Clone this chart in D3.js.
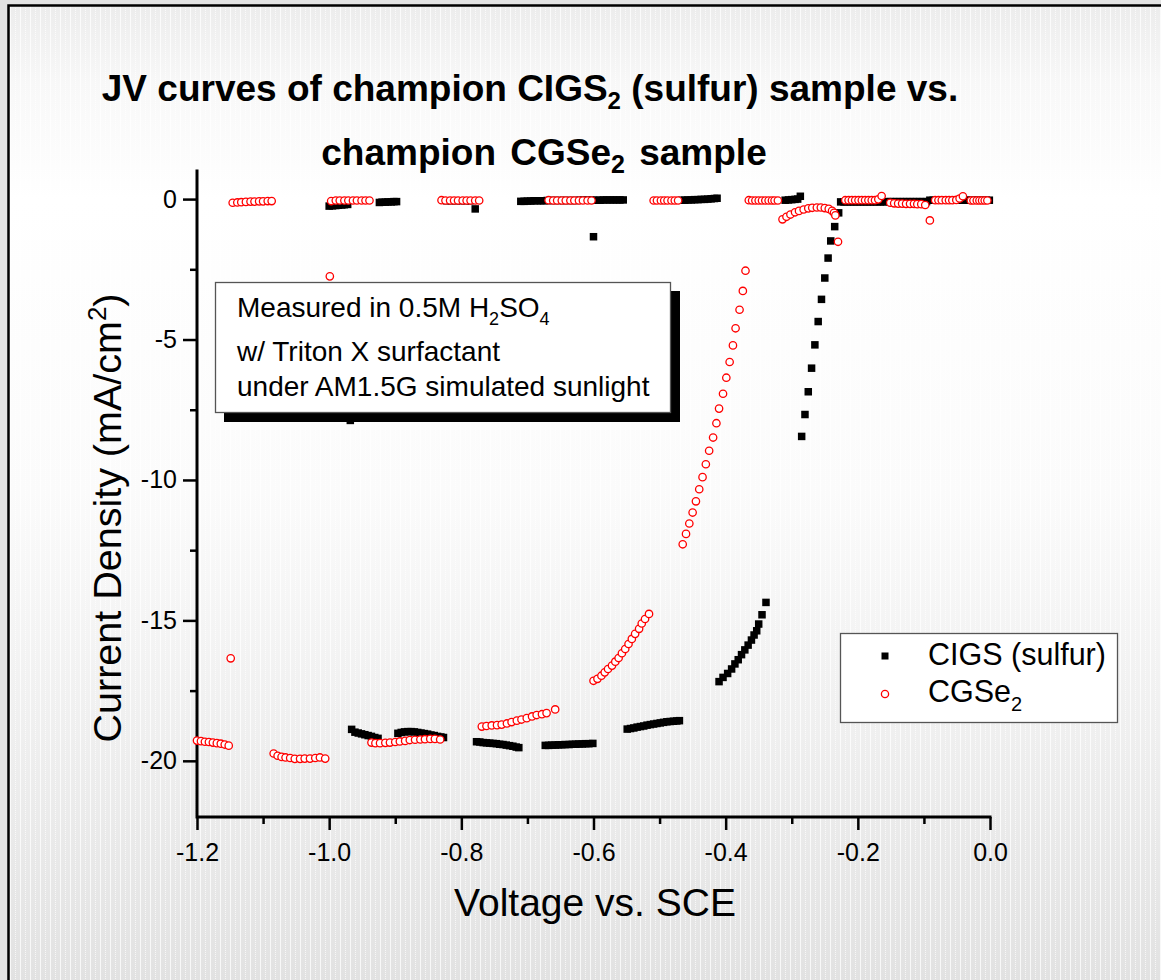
<!DOCTYPE html>
<html>
<head>
<meta charset="utf-8">
<script src="https://d3js.org/d3.v7.min.js"></script>
<style>
  html, body { margin: 0; padding: 0; background: #e3e3e3; }
  svg { display: block; }
  text { font-family: "Liberation Sans", Arial, Helvetica, sans-serif; fill: #000; }
</style>
</head>
<body>
<svg id="chart" width="1161" height="980"></svg>
<script>
// ---- CIGS (sulfur): chopped-light scan, voltage (V vs. SCE) and current density (mA/cm^2)
const cigsVoltage = [
  -1.000, -0.995, -0.990, -0.986, -0.981, -0.977, -0.972,
  -0.968,
  -0.966, -0.961, -0.956, -0.951, -0.946, -0.941, -0.936, -0.931, -0.926,
  -0.924, -0.920, -0.915, -0.911, -0.906, -0.902, -0.898,
  -0.896, -0.891, -0.886, -0.881, -0.876, -0.871, -0.866, -0.861, -0.856, -0.851, -0.846, -0.841, -0.836, -0.831, -0.827,
  -0.822, -0.815, -0.808, -0.801, -0.794, -0.787, -0.779,
  -0.777, -0.772, -0.767, -0.762, -0.757, -0.752, -0.747, -0.742, -0.737, -0.732, -0.727, -0.722, -0.717, -0.713,
  -0.710, -0.705, -0.700, -0.695, -0.690, -0.685, -0.680, -0.675, -0.670, -0.665, -0.660, -0.655, -0.650, -0.645, -0.640, -0.635,
  -0.630, -0.625, -0.620, -0.615, -0.610, -0.605, -0.600, -0.595, -0.590, -0.585, -0.580, -0.575, -0.570, -0.565, -0.560, -0.555,
  -0.673, -0.668, -0.663, -0.658, -0.653, -0.648, -0.643, -0.637, -0.632, -0.627, -0.622, -0.617, -0.612, -0.607, -0.601,
  -0.600,
  -0.549, -0.544, -0.539, -0.534, -0.529, -0.524, -0.519, -0.514, -0.509, -0.504, -0.499, -0.494, -0.489, -0.484, -0.479, -0.474, -0.470,
  -0.467, -0.462, -0.457, -0.452, -0.447, -0.442, -0.437, -0.432, -0.427, -0.422, -0.417, -0.413,
  -0.410, -0.404, -0.397, -0.391, -0.386, -0.381, -0.376, -0.371, -0.366, -0.361, -0.357, -0.353, -0.350, -0.345, -0.339,
  -0.310, -0.305, -0.300, -0.295, -0.291, -0.287,
  -0.285, -0.280, -0.275, -0.270, -0.265, -0.260, -0.255, -0.250, -0.245, -0.241, -0.235, -0.229,
  -0.226, -0.221, -0.216, -0.211, -0.206, -0.201, -0.196, -0.191, -0.186, -0.181, -0.176, -0.171, -0.166, -0.161,
  -0.156, -0.151, -0.146, -0.141, -0.136, -0.131, -0.126, -0.121, -0.116, -0.111, -0.106, -0.101, -0.096,
  -0.091, -0.086, -0.081, -0.076, -0.071, -0.066, -0.061, -0.056, -0.051, -0.046, -0.041, -0.036, -0.031, -0.026, -0.021, -0.016, -0.011, -0.006, -0.001
];
const cigsCurrent = [
  -0.25, -0.24, -0.23, -0.22, -0.21, -0.20, -0.19,
  -7.88,
  -18.88, -18.98, -19.01, -19.04, -19.07, -19.10, -19.13, -19.17, -19.20,
  -0.12, -0.11, -0.11, -0.10, -0.10, -0.09, -0.09,
  -19.02, -18.99, -18.97, -18.96, -18.96, -18.97, -18.99, -19.01, -19.03, -19.05, -19.08, -19.10, -19.13, -19.15, -19.17,
  -0.06, -0.06, -0.06, -0.06, -0.06, -0.06, -0.35,
  -19.32, -19.33, -19.35, -19.36, -19.37, -19.38, -19.39, -19.41, -19.42, -19.44, -19.46, -19.48, -19.51, -19.53,
  -0.08, -0.08, -0.07, -0.07, -0.06, -0.06, -0.06, -0.06, -0.05, -0.05, -0.05, -0.05, -0.05, -0.05, -0.05, -0.05,
  -0.05, -0.05, -0.04, -0.04, -0.04, -0.04, -0.04, -0.04, -0.04, -0.03, -0.03, -0.03, -0.03, -0.03, -0.03, -0.03,
  -19.45, -19.45, -19.44, -19.44, -19.43, -19.43, -19.42, -19.42, -19.41, -19.41, -19.40, -19.40, -19.39, -19.39, -19.38,
  -1.34,
  -18.87, -18.85, -18.83, -18.80, -18.78, -18.76, -18.73, -18.71, -18.69, -18.67, -18.65, -18.63, -18.61, -18.60, -18.59, -18.58, -18.57,
  -0.04, -0.04, -0.03, -0.03, -0.02, -0.02, -0.01, -0.01, 0.00, 0.01, 0.02, 0.03,
  -17.18, -17.03, -16.89, -16.73, -16.55, -16.40, -16.22, -16.05, -15.88, -15.70, -15.52, -15.37, -15.13, -14.80, -14.36,
  -0.04, -0.03, -0.02, -0.01, 0.00, 0.10,
  -8.45, -7.67, -6.86, -6.02, -5.19, -4.36, -3.57, -2.81, -2.10, -1.49, -0.98, -0.49,
  -0.10, -0.10, -0.10, -0.10, -0.10, -0.10, -0.10, -0.10, -0.10, -0.10, -0.10, -0.10, -0.10, -0.10,
  -0.09, -0.09, -0.09, -0.09, -0.09, -0.09, -0.09, -0.09, -0.09, -0.09, -0.09, -0.09, -0.09,
  -0.04, -0.04, -0.04, -0.04, -0.04, -0.04, -0.04, -0.04, -0.04, -0.04, -0.04, -0.04, -0.04, -0.04, -0.04, -0.04, -0.04, -0.04, -0.04
];

// ---- CGSe2: chopped-light scan
const cgseVoltage = [
  -1.200, -1.194, -1.188, -1.182, -1.176, -1.170, -1.164, -1.158, -1.152,
  -1.149,
  -1.146, -1.139, -1.133, -1.126, -1.119, -1.113, -1.106, -1.100, -1.093, -1.087,
  -1.084, -1.078, -1.072, -1.066, -1.059, -1.052, -1.044, -1.037, -1.029, -1.021, -1.014, -1.006,
  -0.999,
  -0.997, -0.990, -0.984, -0.977, -0.971, -0.964, -0.958, -0.951, -0.945, -0.939,
  -0.936, -0.930, -0.923, -0.915, -0.908, -0.900, -0.893, -0.885, -0.878, -0.870, -0.862, -0.855, -0.847, -0.840, -0.832,
  -0.830, -0.824, -0.817, -0.811, -0.805, -0.798, -0.792, -0.786, -0.779, -0.773,
  -0.769, -0.762, -0.754, -0.746, -0.739, -0.731, -0.724, -0.716, -0.709, -0.701, -0.693, -0.686, -0.678, -0.671,
  -0.658,
  -0.668, -0.661, -0.655, -0.648, -0.642, -0.635, -0.629, -0.622, -0.616, -0.609, -0.603,
  -0.600, -0.594, -0.588, -0.583, -0.578, -0.572, -0.567, -0.562, -0.557, -0.552, -0.547, -0.542, -0.537, -0.531, -0.527, -0.522, -0.516,
  -0.509, -0.504, -0.498, -0.493, -0.488, -0.482, -0.477, -0.472,
  -0.465, -0.460, -0.455, -0.450, -0.445, -0.440, -0.435, -0.430, -0.425, -0.419, -0.414, -0.410, -0.404, -0.399, -0.394, -0.389, -0.385, -0.379, -0.374, -0.370,
  -0.365, -0.360, -0.355, -0.350, -0.345, -0.340, -0.335, -0.330, -0.326, -0.321,
  -0.314, -0.308, -0.302, -0.295, -0.289, -0.282, -0.275, -0.269, -0.262, -0.256, -0.250, -0.244, -0.239, -0.236, -0.234,
  -0.230,
  -0.219, -0.214, -0.209, -0.204, -0.199, -0.194, -0.189, -0.184, -0.179, -0.174, -0.169, -0.164,
  -0.151, -0.145, -0.139, -0.133, -0.127, -0.121, -0.115, -0.110, -0.104, -0.098,
  -0.091,
  -0.083, -0.078, -0.073, -0.067, -0.062, -0.057, -0.051, -0.046, -0.041,
  -0.029, -0.025, -0.020, -0.016, -0.012, -0.008, -0.004
];
const cgseCurrent = [
  -19.28, -19.30, -19.32, -19.33, -19.35, -19.37, -19.39, -19.42, -19.46,
  -16.35,
  -0.13, -0.12, -0.11, -0.10, -0.09, -0.09, -0.08, -0.08, -0.07, -0.07,
  -19.74, -19.82, -19.86, -19.88, -19.90, -19.93, -19.93, -19.92, -19.92, -19.90, -19.88, -19.92,
  -2.75,
  -0.07, -0.05, -0.05, -0.05, -0.05, -0.05, -0.05, -0.05, -0.05, -0.05,
  -19.35, -19.37, -19.37, -19.36, -19.35, -19.33, -19.31, -19.29, -19.26, -19.25, -19.24, -19.23, -19.22, -19.22, -19.24,
  -0.04, -0.05, -0.05, -0.05, -0.05, -0.05, -0.05, -0.05, -0.05, -0.05,
  -18.78, -18.76, -18.74, -18.73, -18.71, -18.67, -18.62, -18.57, -18.53, -18.48, -18.42, -18.37, -18.34, -18.30,
  -18.17,
  -0.04, -0.05, -0.05, -0.05, -0.05, -0.05, -0.05, -0.05, -0.05, -0.05, -0.05,
  -17.15, -17.08, -16.97, -16.85, -16.73, -16.61, -16.47, -16.34, -16.17, -16.02, -15.84, -15.66, -15.48, -15.30, -15.11, -14.95, -14.77,
  -0.05, -0.05, -0.05, -0.05, -0.05, -0.05, -0.05, -0.05,
  -12.29, -11.92, -11.55, -11.16, -10.76, -10.33, -9.90, -9.44, -8.96, -8.49, -7.98, -7.46, -6.93, -6.36, -5.80, -5.21, -4.60, -3.94, -3.27, -2.55,
  -0.04, -0.05, -0.05, -0.05, -0.05, -0.05, -0.05, -0.05, -0.05, -0.05,
  -0.72, -0.63, -0.55, -0.47, -0.42, -0.37, -0.33, -0.31, -0.30, -0.30, -0.32, -0.35, -0.42, -0.49, -0.58,
  -1.52,
  -0.04, -0.04, -0.04, -0.04, -0.04, -0.04, -0.04, -0.04, -0.04, -0.04, -0.01, 0.11,
  -0.13, -0.15, -0.16, -0.16, -0.17, -0.17, -0.17, -0.18, -0.18, -0.21,
  -0.76,
  -0.04, -0.04, -0.04, -0.04, -0.04, -0.04, -0.03, 0.02, 0.10,
  -0.05, -0.05, -0.05, -0.05, -0.05, -0.05, -0.05
];

// ---- axes
const xMajorTicks = [-1.2, -1.0, -0.8, -0.6, -0.4, -0.2, 0.0];
const xTickLabels = ["-1.2", "-1.0", "-0.8", "-0.6", "-0.4", "-0.2", "0.0"];
const xMinorTicks = [-1.1, -0.9, -0.7, -0.5, -0.3, -0.1];
const yMajorTicks = [0, -5, -10, -15, -20];
const yTickLabels = ["0", "-5", "-10", "-15", "-20"];
const yMinorTicks = [-2.5, -7.5, -12.5, -17.5];

const seriesNames = ["CIGS (sulfur)", "CGSe"];
const noteLines = ["w/ Triton X surfactant", "under AM1.5G simulated sunlight"];

const svg = d3.select("#chart");
const W = 1161, H = 980;
const defs = svg.append("defs");

// page background: soft vertical gradient with a faint striped texture
const grad = defs.append("linearGradient").attr("id", "pageGrad")
  .attr("x1", 0).attr("y1", 0).attr("x2", 0).attr("y2", 1);
[[0, "#ececec"], [0.08, "#f8f8f8"], [0.2, "#ffffff"], [0.5, "#fbfbfb"], [0.75, "#efefef"], [1, "#e2e2e2"]]
  .forEach(([o, c]) => grad.append("stop").attr("offset", o).attr("stop-color", c));
const pat = defs.append("pattern").attr("id", "pageTex")
  .attr("width", 10).attr("height", 4).attr("patternUnits", "userSpaceOnUse");
pat.append("rect").attr("x", 0).attr("y", 0).attr("width", 1).attr("height", 4).attr("fill", "#fff").attr("opacity", 0.75);
pat.append("rect").attr("x", 5).attr("y", 0).attr("width", 1).attr("height", 1).attr("fill", "#fff").attr("opacity", 0.7);
pat.append("rect").attr("x", 5).attr("y", 2).attr("width", 1).attr("height", 1).attr("fill", "#fff").attr("opacity", 0.7);

svg.append("rect").attr("width", W).attr("height", H).attr("fill", "#e3e3e3");
svg.append("rect").attr("x", 8).attr("y", 5).attr("width", W - 8).attr("height", H - 5).attr("fill", "url(#pageGrad)");
svg.append("rect").attr("x", 8).attr("y", 5).attr("width", W - 8).attr("height", H - 5).attr("fill", "url(#pageTex)");
svg.append("path").attr("d", `M8.5,${H}V5.5H${W}`).attr("fill", "none").attr("stroke", "#000").attr("stroke-width", 2.5);

// scales
const x = d3.scaleLinear().domain([-1.2, 0]).range([197, 990]);
const y = d3.scaleLinear().domain([-22, 1]).range([817, 171]);

// title
const t1 = svg.append("text").attr("x", 530).attr("y", 101).attr("text-anchor", "middle")
  .attr("font-size", 37).attr("font-weight", "bold");
t1.append("tspan").text("JV curves of champion CIGS");
t1.append("tspan").attr("font-size", 24).attr("dy", 8).text("2");
t1.append("tspan").attr("dy", -8).text(" (sulfur) sample vs.");
const t2 = svg.append("text").attr("x", 544).attr("y", 165).attr("text-anchor", "middle")
  .attr("font-size", 37).attr("font-weight", "bold").attr("word-spacing", 4);
t2.append("tspan").text("champion CGSe");
t2.append("tspan").attr("font-size", 25).attr("dy", 8).text("2");
t2.append("tspan").attr("dy", -8).text(" sample");

// axes
const axisFont = 25;
function styleAxis(g, w) {
  g.select(".domain").remove();
  g.selectAll(".tick line").attr("stroke", "#000").attr("stroke-width", w);
  g.selectAll(".tick text").attr("font-size", axisFont).attr("fill", "#000")
    .attr("font-family", '"Liberation Sans", Arial, sans-serif');
}
const gx = svg.append("g").attr("transform", `translate(0,${y(-22)})`);
gx.append("g").call(d3.axisBottom(x).tickValues(xMinorTicks).tickSize(7).tickFormat(""))
  .call(g => styleAxis(g, 2.5));
gx.append("g").call(d3.axisBottom(x).tickValues(xMajorTicks).tickSize(13).tickPadding(13)
  .tickFormat((d, i) => xTickLabels[i])).call(g => styleAxis(g, 2.5));

const gy = svg.append("g").attr("transform", `translate(${x(-1.2)},0)`);
gy.append("g").call(d3.axisLeft(y).tickValues(yMinorTicks).tickSize(7).tickFormat(""))
  .call(g => styleAxis(g, 2.5));
gy.append("g").call(d3.axisLeft(y).tickValues(yMajorTicks).tickSize(14).tickPadding(6)
  .tickFormat((d, i) => yTickLabels[i])).call(g => styleAxis(g, 2.5));

svg.append("path")
  .attr("d", `M${x(-1.2)},${y(1)}V${y(-22)}H${x(0)}`)
  .attr("fill", "none").attr("stroke", "#000").attr("stroke-width", 3)
  .attr("stroke-linecap", "square").attr("stroke-linejoin", "miter");

// axis titles
svg.append("text").attr("x", 595).attr("y", 916).attr("text-anchor", "middle")
  .attr("font-size", 39).text("Voltage vs. SCE");
const yl = svg.append("text").attr("transform", "translate(121,518) rotate(-90)")
  .attr("text-anchor", "middle").attr("font-size", 39.5);
yl.append("tspan").text("Current Density (mA/cm");
yl.append("tspan").attr("font-size", 26).attr("dy", -15).text("2");
yl.append("tspan").attr("dy", 15).text(")");

// data points
const cigs = d3.zip(cigsVoltage, cigsCurrent);
const cgse = d3.zip(cgseVoltage, cgseCurrent);
const sq = 7.5;
svg.append("g").selectAll("rect").data(cigs).join("rect")
  .attr("x", d => x(d[0]) - sq / 2).attr("y", d => y(d[1]) - sq / 2)
  .attr("width", sq).attr("height", sq).attr("fill", "#000");
svg.append("g").selectAll("circle").data(cgse).join("circle")
  .attr("cx", d => x(d[0])).attr("cy", d => y(d[1])).attr("r", 3.7)
  .attr("fill", "#fff").attr("stroke", "#ff0000").attr("stroke-width", 1.3);

// measurement note with drop shadow
svg.append("rect").attr("x", 224).attr("y", 291).attr("width", 456).attr("height", 131).attr("fill", "#000");
svg.append("rect").attr("x", 215.5).attr("y", 282.5).attr("width", 455).attr("height", 130)
  .attr("fill", "#fff").attr("stroke", "#555").attr("stroke-width", 1.3);
const n1 = svg.append("text").attr("x", 237).attr("y", 317).attr("font-size", 28);
n1.append("tspan").text("Measured in 0.5M H");
n1.append("tspan").attr("font-size", 18).attr("dy", 8).text("2");
n1.append("tspan").attr("dy", -8).text("SO");
n1.append("tspan").attr("font-size", 18).attr("dy", 8).text("4");
svg.append("text").attr("x", 237).attr("y", 361).attr("font-size", 28).text(noteLines[0]);
svg.append("text").attr("x", 237).attr("y", 396).attr("font-size", 28).text(noteLines[1]);

// legend
svg.append("rect").attr("x", 840.5).attr("y", 633.5).attr("width", 277).attr("height", 89)
  .attr("fill", "#fff").attr("stroke", "#555").attr("stroke-width", 1.3);
svg.append("rect").attr("x", 885 - 3.5).attr("y", 656 - 3.5).attr("width", 7).attr("height", 7).attr("fill", "#000");
svg.append("circle").attr("cx", 885).attr("cy", 694).attr("r", 3.6)
  .attr("fill", "#fff").attr("stroke", "#ff0000").attr("stroke-width", 1.3);
svg.append("text").attr("x", 928).attr("y", 665).attr("font-size", 30.5).text(seriesNames[0]);
const lg2 = svg.append("text").attr("x", 928).attr("y", 702).attr("font-size", 30.5);
lg2.append("tspan").text(seriesNames[1]);
lg2.append("tspan").attr("font-size", 20).attr("dy", 9).text("2");
</script>
</body>
</html>
